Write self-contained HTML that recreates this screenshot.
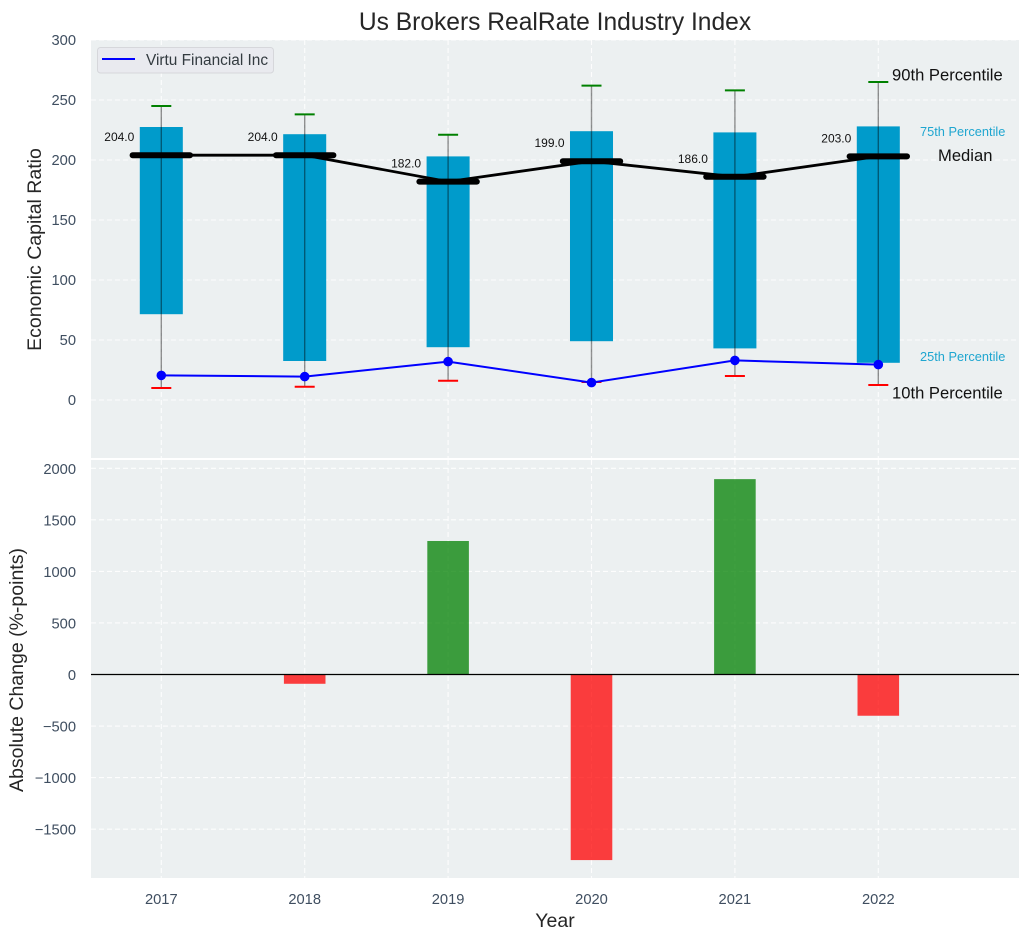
<!DOCTYPE html>
<html>
<head>
<meta charset="utf-8">
<title>Us Brokers RealRate Industry Index</title>
<style>
html,body{margin:0;padding:0;background:#fff;}
svg{display:block;font-family:"Liberation Sans",Arial,sans-serif;}
</style>
</head>
<body>
<svg id="chart" xmlns="http://www.w3.org/2000/svg" width="1029" height="940" viewBox="0 0 1029 940">
  <rect x="91" y="40" width="928" height="418" fill="#ecf0f1"/>
  <rect x="91" y="460" width="928" height="418" fill="#ecf0f1"/>
  <g id="grid"></g>
  <g id="marks"></g>
  <g id="ticks"></g>
  <text x="555" y="30" text-anchor="middle" font-size="24.600" fill="#262626">Us Brokers RealRate Industry Index</text>
  <text transform="translate(41,249.500) rotate(-90)" text-anchor="middle" font-size="19.500" fill="#262626">Economic Capital Ratio</text>
  <text transform="translate(23,670) rotate(-90)" text-anchor="middle" font-size="19.500" fill="#262626">Absolute Change (%-points)</text>
  <text x="555" y="927" text-anchor="middle" font-size="19.500" fill="#262626">Year</text>
  <g>
    <rect x="97.500" y="47.500" width="176" height="25.500" rx="3" fill="#e9eaef" stroke="#d6d7db" stroke-width="1"/>
    <line x1="102" y1="59" x2="135" y2="59" stroke="#0000ff" stroke-width="2"/>
    <text x="146" y="65" font-size="15.400" fill="#333b40">Virtu Financial Inc</text>
  </g>
  <g>
    <text x="892" y="80.500" font-size="16.600" fill="#111">90th Percentile</text>
    <text x="920" y="136" font-size="12.800" fill="#1fa6d0">75th Percentile</text>
    <text x="938" y="161" font-size="16.600" fill="#111">Median</text>
    <text x="920" y="361" font-size="12.800" fill="#1fa6d0">25th Percentile</text>
    <text x="892" y="398.500" font-size="16.600" fill="#111">10th Percentile</text>
  </g>
</svg>
<script>
const years = [2017, 2018, 2019, 2020, 2021, 2022];
const p90 = [245, 238, 221, 262, 258, 265];
const p75 = [227.5, 221.5, 203, 224, 223, 228];
const median = [204, 204, 182, 199, 186, 203];
const p25 = [71.5, 32.5, 44, 49, 43, 31];
const p10 = [10, 11, 16, 15, 20, 12.5];
const company = [20.5, 19.5, 32, 14.5, 33, 29.5];
const absoluteChange = [0, -90, 1295, -1800, 1895, -400];
const topTicks = [0, 50, 100, 150, 200, 250, 300];
const bottomTicks = [-1500, -1000, -500, 0, 500, 1000, 1500, 2000];

const NS = 'http://www.w3.org/2000/svg';
const gridG = document.getElementById('grid');
const marksG = document.getElementById('marks');
const ticksG = document.getElementById('ticks');

function xScale(y) { return 161.3 + (y - 2017) * 143.4; }
function yTop(v) { return 400 - v * 1.2; }
function yBottom(v) { return 674.5 - v * 0.1031; }

function make(tag, parent, attrs) {
  const el = document.createElementNS(NS, tag);
  for (const k in attrs) el.setAttribute(k, attrs[k]);
  parent.appendChild(el);
  return el;
}

const gridStyle = { stroke: '#ffffff', 'stroke-width': 1.1, 'stroke-dasharray': '5 3', opacity: 0.9 };

years.forEach(function (yr) {
  const lineA = make('line', gridG, Object.assign({ x1: xScale(yr), x2: xScale(yr), y1: 40, y2: 458 }, gridStyle));
  
  
  const lineB = make('line', gridG, Object.assign({ x1: xScale(yr), x2: xScale(yr), y1: 460, y2: 878 }, gridStyle));
  
  
  const label = make('text', ticksG, { x: xScale(yr), y: 904, 'text-anchor': 'middle', 'font-size': 14.7, fill: '#3f4e60' });
  label.textContent = String(yr);
  
  
});

topTicks.forEach(function (t) {
  const line = make('line', gridG, Object.assign({ x1: 91, x2: 1019, y1: yTop(t), y2: yTop(t) }, gridStyle));
  
  
  const label = make('text', ticksG, { x: 76, y: yTop(t) + 5, 'text-anchor': 'end', 'font-size': 14.7, fill: '#3f4e60' });
  label.textContent = String(t);
  
  
});

bottomTicks.forEach(function (t) {
  const line = make('line', gridG, Object.assign({ x1: 91, x2: 1019, y1: yBottom(t), y2: yBottom(t) }, gridStyle));
  
  
  const label = make('text', ticksG, { x: 76, y: yBottom(t) + 5.5, 'text-anchor': 'end', 'font-size': 14.7, fill: '#3f4e60' });
  label.textContent = (t < 0 ? '\u2212' : '') + Math.abs(t);
  
  
});

const halfBox = 0.15 * 143.4;
years.forEach(function (yr, i) {
  const box = make('rect', marksG, { x: xScale(yr) - halfBox, y: yTop(p75[i]), width: halfBox * 2, height: yTop(p25[i]) - yTop(p75[i]), fill: '#009bcb' });
  
  
});

years.forEach(function (yr, i) {
  const whisker = make('line', marksG, { x1: xScale(yr), x2: xScale(yr), y1: yTop(p90[i]), y2: yTop(p10[i]), stroke: '#000000', 'stroke-width': 1.4, opacity: 0.42 });
  
  
  const capHigh = make('line', marksG, { x1: xScale(yr) - 10, x2: xScale(yr) + 10, y1: yTop(p90[i]), y2: yTop(p90[i]), stroke: '#008000', 'stroke-width': 2 });
  
  
  const capLow = make('line', marksG, { x1: xScale(yr) - 10, x2: xScale(yr) + 10, y1: yTop(p10[i]), y2: yTop(p10[i]), stroke: '#ff0000', 'stroke-width': 2 });
  
  
});

const medianLine = make('polyline', marksG, { points: years.map(function (yr, i) { return xScale(yr) + ',' + yTop(median[i]); }).join(' '), fill: 'none', stroke: '#000000', 'stroke-width': 2.8 });



const companyLine = make('polyline', marksG, { points: years.map(function (yr, i) { return xScale(yr) + ',' + yTop(company[i]); }).join(' '), fill: 'none', stroke: '#0000ff', 'stroke-width': 2 });



years.forEach(function (yr, i) {
  const bar = make('line', marksG, { x1: xScale(yr) - 28.7, x2: xScale(yr) + 28.7, y1: yTop(median[i]), y2: yTop(median[i]), stroke: '#000000', 'stroke-width': 6, 'stroke-linecap': 'round' });
  
  
  const dot = make('circle', marksG, { cx: xScale(yr), cy: yTop(company[i]), r: 4.8, fill: '#0000ff' });
  
  
  const val = make('text', marksG, { x: xScale(yr) - 42, y: yTop(median[i]) - 14, 'text-anchor': 'middle', 'font-size': 12, fill: '#111' });
  val.textContent = median[i].toFixed(1);
  
  
});

const halfChange = 0.145 * 143.4;
years.forEach(function (yr, i) {
  const v = absoluteChange[i];
  if (v === 0) return;
  const top = Math.min(yBottom(v), yBottom(0));
  const h = Math.abs(yBottom(v) - yBottom(0));
  const bar = make('rect', marksG, { x: xScale(yr) - halfChange, y: top, width: halfChange * 2, height: h, fill: v > 0 ? '#008000' : '#ff0000', opacity: 0.75 });
  
  
});

const zeroLine = make('line', marksG, { x1: 91, x2: 1019, y1: yBottom(0), y2: yBottom(0), stroke: '#000000', 'stroke-width': 1.3 });


</script>
</body>
</html>
